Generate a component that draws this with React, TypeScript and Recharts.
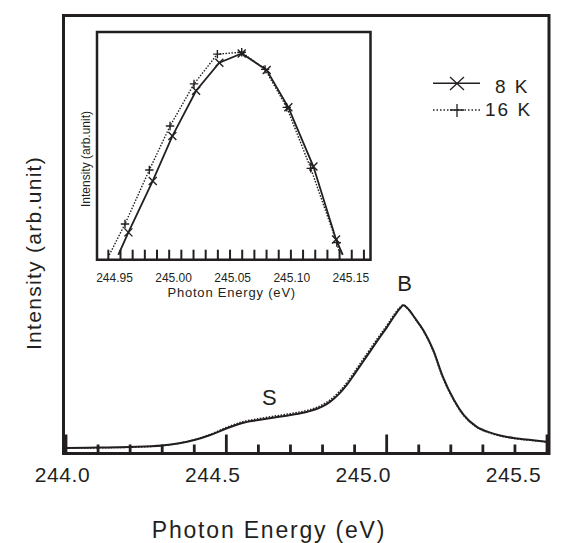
import { LineChart, Line, XAxis, YAxis, ReferenceArea, ReferenceDot } from 'recharts'

const FONT = '"Liberation Sans", Arial, sans-serif'
const INK = '#231f20'

// main spectrum (intensity in arb. units, peak B ~ 1)
const energy = [244.0, 244.1, 244.2, 244.3, 244.4, 244.45, 244.5, 244.55, 244.6, 244.65, 244.7, 244.75, 244.8, 244.825, 244.85, 244.875, 244.9, 244.925, 244.95, 244.975, 245.0, 245.025, 245.04, 245.052, 245.065, 245.09, 245.115, 245.145, 245.175, 245.21, 245.24, 245.28, 245.33, 245.4, 245.45, 245.5]
const int8K = [0.038, 0.041, 0.045, 0.055, 0.092, 0.127, 0.171, 0.209, 0.229, 0.247, 0.264, 0.284, 0.322, 0.357, 0.405, 0.468, 0.545, 0.625, 0.705, 0.785, 0.862, 0.945, 0.99, 1.015, 0.995, 0.922, 0.842, 0.709, 0.526, 0.366, 0.264, 0.184, 0.138, 0.104, 0.092, 0.081]
const int16K = [0.036, 0.039, 0.043, 0.054, 0.094, 0.131, 0.178, 0.217, 0.238, 0.256, 0.273, 0.294, 0.334, 0.37, 0.419, 0.483, 0.561, 0.641, 0.721, 0.8, 0.876, 0.957, 0.998, 1.018, 0.993, 0.918, 0.837, 0.702, 0.519, 0.361, 0.26, 0.181, 0.135, 0.102, 0.09, 0.079]
const mainTicks = [244.0, 244.1, 244.2, 244.3, 244.4, 244.5, 244.6, 244.7, 244.8, 244.9, 245.0, 245.1, 245.2, 245.3, 245.4, 245.5]
const mainTickLabels = ['244.0', '244.5', '245.0', '245.5']
const mainXDomain = [243.9922, 245.5062]
const mainYDomain = [0, 3]

// inset: zoom on peak B
const insetE8K = [244.9582, 244.9665, 244.9865, 245.0026, 245.0221, 245.0412, 245.0596, 245.0801, 245.0979, 245.1185, 245.1371, 245.1426]
const insetI8K = [0.021, 0.12, 0.346, 0.543, 0.742, 0.865, 0.906, 0.833, 0.669, 0.409, 0.089, 0.021]
const insetE16K = [244.9508, 244.9637, 244.9837, 245.0007, 245.0204, 245.0396, 245.0596, 245.0788, 245.0966, 245.1163, 245.1377, 245.1404]
const insetI16K = [0.021, 0.157, 0.394, 0.587, 0.772, 0.903, 0.911, 0.836, 0.669, 0.401, 0.075, 0.021]
const insetTicks = [244.95, 244.96, 244.97, 244.98, 244.99, 245.0, 245.01, 245.02, 245.03, 245.04, 245.05, 245.06, 245.07, 245.08, 245.09, 245.1, 245.11, 245.12, 245.13, 245.14, 245.15, 245.16]
const insetTickLabels = ['244.95', '245.00', '245.05', '245.10', '245.15']
const insetXDomain = [244.9407, 245.1654]
const insetYDomain = [0, 1]

const seriesNames = ['8 K', '16 K']
const peakNames = ['S', 'B']
const peakPos = [
  { e: 244.6345, v: 0.39 },
  { e: 245.0555, v: 1.166 },
]

const mainData = energy.map((e, i) => ({ e, k8: int8K[i], k16: int16K[i] }))
const inset8K = insetE8K.map((e, i) => ({ e, v: insetI8K[i] }))
const inset16K = insetE16K.map((e, i) => ({ e, v: insetI16K[i] }))

const findLabel = (labels: string[], v: number) =>
  labels.find((l) => Math.abs(parseFloat(l) - v) < 1e-6)

function MainTick(props: any) {
  const { x, y, payload } = props
  const v = payload.value
  const label = findLabel(mainTickLabels, v)
  const len = label ? 19 : 9
  return (
    <g>
      <line x1={x} x2={x} y1={y} y2={y - len} stroke={INK} strokeWidth={2.8} />
      {label && (
        <text x={x - 3.5 - (v - 244) * 20} y={y + 28.5} textAnchor="middle" fontSize={21} letterSpacing={0.6} fontFamily={FONT} fill={INK}>
          {label}
        </text>
      )}
    </g>
  )
}

function InsetTick(props: any) {
  const { x, y, payload } = props
  const v = payload.value
  const label = findLabel(insetTickLabels, v)
  return (
    <g>
      <line x1={x} x2={x} y1={y} y2={y - 10} stroke={INK} strokeWidth={2} />
      {label && (
        <text x={x + 6.2 - (v - 244.95) * 35.5} y={y + 21.8} textAnchor="middle" fontSize={12} fontFamily={FONT} fill={INK}>
          {label}
        </text>
      )}
    </g>
  )
}

const crossDot = (last: number) => (props: any) => {
  const { cx, cy, index } = props
  if (index === 0 || index === last) return <g key={index} />
  const s = 4
  return (
    <path key={index} d={`M${cx - s},${cy - s}L${cx + s},${cy + s}M${cx - s},${cy + s}L${cx + s},${cy - s}`} stroke={INK} strokeWidth={1.4} fill="none" />
  )
}

const plusDot = (last: number) => (props: any) => {
  const { cx, cy, index } = props
  if (index === 0 || index === last) return <g key={index} />
  const s = 4.2
  return (
    <path key={index} d={`M${cx - s},${cy}L${cx + s},${cy}M${cx},${cy - s}L${cx},${cy + s}`} stroke={INK} strokeWidth={1.4} fill="none" />
  )
}

function PeakLabel(props: any) {
  const { viewBox, value } = props
  const cx = viewBox.x + (viewBox.width || 0) / 2
  const cy = viewBox.y + (viewBox.height || 0) / 2
  return (
    <text x={cx} y={cy + 8} textAnchor="middle" fontSize={22} fontFamily={FONT} fill={INK}>
      {value}
    </text>
  )
}

function Overlay() {
  return (
    <svg width={577} height={543} style={{ position: 'absolute', left: 0, top: 0, pointerEvents: 'none' }}>
      {/* axis titles */}
      <text x={269} y={537.5} textAnchor="middle" fontSize={23} letterSpacing={1.8} fontFamily={FONT} fill={INK}>
        Photon Energy (eV)
      </text>
      <text transform="translate(41,253) rotate(-90)" textAnchor="middle" fontSize={21} letterSpacing={1.3} fontFamily={FONT} fill={INK}>
        Intensity (arb.unit)
      </text>
      <text x={231.7} y={296.7} textAnchor="middle" fontSize={13} letterSpacing={0.8} fontFamily={FONT} fill={INK}>
        Photon Energy (eV)
      </text>
      <text transform="translate(90,159) rotate(-90)" textAnchor="middle" fontSize={12} fontFamily={FONT} fill={INK}>
        Intensity (arb.unit)
      </text>

      {/* legend */}
      <line x1={433} x2={480} y1={83.3} y2={83.3} stroke={INK} strokeWidth={1.6} />
      <path d="M450,77 L464,90 M450,90 L464,77" stroke={INK} strokeWidth={1.3} />
      <text x={495} y={93.3} fontSize={19} letterSpacing={2} fontFamily={FONT} fill={INK}>
        {seriesNames[0]}
      </text>
      <line x1={433} x2={480} y1={110} y2={110} stroke={INK} strokeWidth={1.4} strokeDasharray="1.5 2" />
      <path d="M450,110 L464,110 M457,104 L457,117" stroke={INK} strokeWidth={1.3} />
      <text x={485} y={116} fontSize={19} letterSpacing={2} fontFamily={FONT} fill={INK}>
        {seriesNames[1]}
      </text>
    </svg>
  )
}

export default function App() {
  return (
    <div style={{ position: 'absolute', left: 0, top: 0, width: 577, height: 543, background: '#fff' }}>
      <LineChart width={577} height={543} data={mainData} margin={{ top: 15.5, right: 28, bottom: 88.5, left: 63.5 }}>
        <XAxis
          dataKey="e"
          type="number"
          domain={mainXDomain}
          ticks={mainTicks}
          interval={0}
          height={1}
          tickSize={0}
          tickMargin={0}
          axisLine={false}
          tickLine={false}
          tick={<MainTick />}
        />
        <YAxis type="number" domain={mainYDomain} hide width={0} />
        <ReferenceArea x1={mainXDomain[0]} x2={mainXDomain[1]} y1={mainYDomain[0]} y2={mainYDomain[1]} fill="none" stroke={INK} strokeWidth={3} ifOverflow="visible" />
        <Line dataKey="k8" type="monotone" stroke={INK} strokeWidth={2} dot={false} isAnimationActive={false} />
        <Line dataKey="k16" type="monotone" stroke={INK} strokeWidth={1.5} strokeDasharray="1.5 1.5" dot={false} isAnimationActive={false} />
        {peakPos.map((p, i) => (
          <ReferenceDot key={peakNames[i]} x={p.e} y={p.v} r={0} fill="none" stroke="none" label={<PeakLabel value={peakNames[i]} />} ifOverflow="visible" />
        ))}
      </LineChart>

      <div style={{ position: 'absolute', left: 0, top: 0 }}>
        <LineChart width={400} height={310} margin={{ top: 32, right: 29.5, bottom: 49.3, left: 97 }}>
          <XAxis
            dataKey="e"
            type="number"
            domain={insetXDomain}
            ticks={insetTicks}
            interval={0}
            height={1}
            tickSize={0}
            tickMargin={0}
            axisLine={false}
            tickLine={false}
            tick={<InsetTick />}
            allowDataOverflow
          />
          <YAxis type="number" domain={insetYDomain} hide width={0} />
          <ReferenceArea x1={insetXDomain[0]} x2={insetXDomain[1]} y1={insetYDomain[0]} y2={insetYDomain[1]} fill="none" stroke={INK} strokeWidth={2.5} ifOverflow="visible" />
          <Line data={inset8K} dataKey="v" type="linear" stroke={INK} strokeWidth={1.8} dot={crossDot(inset8K.length - 1)} isAnimationActive={false} />
          <Line data={inset16K} dataKey="v" type="linear" stroke={INK} strokeWidth={1.4} strokeDasharray="1.5 1.5" dot={plusDot(inset16K.length - 1)} isAnimationActive={false} />
        </LineChart>
      </div>

      <Overlay />
    </div>
  )
}
